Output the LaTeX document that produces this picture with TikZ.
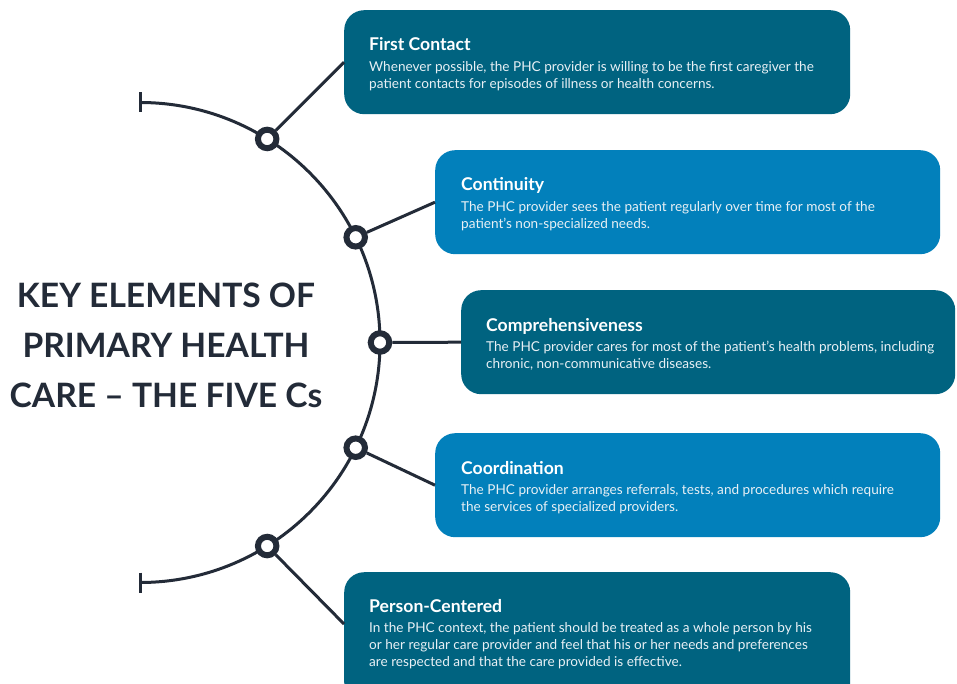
\documentclass[tikz,border=0pt]{standalone}
\usepackage{fontspec}
\setmainfont{Lato}
\usetikzlibrary{calc}
\definecolor{deepteal}{RGB}{0,99,128}
\definecolor{brightblue}{RGB}{2,128,187}
\definecolor{ink}{RGB}{35,43,56}
\definecolor{softwhite}{RGB}{232,240,245}

\begin{document}
\begin{tikzpicture}[x=1pt,y=1pt,
  card/.style={rectangle, rounded corners=20pt, minimum width=506pt, minimum height=104pt,
    anchor=north west, inner sep=0pt, draw=none},
  cardhead/.style={anchor=base west, inner sep=0pt, text=white,
    font=\fontsize{17.6}{20}\selectfont\bfseries},
  cardline/.style={anchor=base west, inner sep=0pt, text=softwhite,
    font=\fontsize{13.6}{17}\selectfont},
  headline/.style={anchor=base, inner sep=0pt, text=ink,
    font=\fontsize{33.6}{50}\selectfont\bfseries},
  joint/.style={circle, draw=ink, fill=white, line width=6pt, minimum size=18.5pt, inner sep=0pt},
  spine/.style={draw=ink, line width=3pt},
  link/.style={draw=ink, line width=3pt},
]
\useasboundingbox (0,0) rectangle (957,-684);
\clip (0,0) rectangle (957,-684);
\fill[white] (0,0) rectangle (957,-684);

% half-circle spine with end ticks
\coordinate (ctr) at (140,-342.5);
\coordinate (top) at (140,-102.5);
\coordinate (bot) at (140,-582.5);
\draw[spine] (top) arc[start angle=90, end angle=-90, radius=240];
\draw[spine] ($(top)+(0,10)$) -- ($(top)+(0,-10)$);
\draw[spine] ($(bot)+(0,10)$) -- ($(bot)+(0,-10)$);

% cards
\node[card, fill=deepteal] (c1) at (344,-10) {};
\node[card, fill=brightblue, minimum width=505pt] (c2) at (435,-150) {};
\node[card, fill=deepteal, minimum width=494pt] (c3) at (461,-290) {};
\node[card, fill=brightblue, minimum width=505pt] (c4) at (435,-433) {};
\node[card, fill=deepteal, minimum height=130pt] (c5) at (344,-572) {};
\coordinate (c5in) at ($(c5.north west)+(0,-52)$);

% joints on the spine
\node[joint] (j1) at ($(ctr)+(58:240)$) {};
\node[joint] (j2) at ($(ctr)+(26:240)$) {};
\node[joint] (j3) at ($(ctr)+(0:240)$) {};
\node[joint] (j4) at ($(ctr)+(-26:240)$) {};
\node[joint] (j5) at ($(ctr)+(-58:240)$) {};

% links from joints to cards
\draw[link] (j1) -- (c1.west);
\draw[link] (j2) -- (c2.west);
\draw[link] (j3) -- (c3.west);
\draw[link] (j4) -- (c4.west);
\draw[link] (j5) -- (c5in);

% headline
\node[headline] (h1) at (166,-307) {KEY ELEMENTS OF};
\node[headline] (h2) at (166,-357) {PRIMARY HEALTH};
\node[headline] (h3) at (166,-407) {CARE – THE FIVE Cs};

% card texts
\node[cardhead] (t1) at ($(c1.north west)+(25,-41)$) {First Contact};
\node[cardline] (t1a) at ($(c1.north west)+(25,-61.5)$) {Whenever possible, the PHC provider is willing to be the first caregiver the};
\node[cardline] (t1b) at ($(c1.north west)+(25,-78.5)$) {patient contacts for episodes of illness or health concerns.};

\node[cardhead] (t2) at ($(c2.north west)+(26,-41)$) {Continuity};
\node[cardline] (t2a) at ($(c2.north west)+(26,-61.5)$) {The PHC provider sees the patient regularly over time for most of the};
\node[cardline] (t2b) at ($(c2.north west)+(26,-78.5)$) {patient’s non-specialized needs.};

\node[cardhead] (t3) at ($(c3.north west)+(25,-41)$) {Comprehensiveness};
\node[cardline] (t3a) at ($(c3.north west)+(25,-61.5)$) {The PHC provider cares for most of the patient’s health problems, including};
\node[cardline] (t3b) at ($(c3.north west)+(25,-78.5)$) {chronic, non-communicative diseases.};

\node[cardhead] (t4) at ($(c4.north west)+(26,-41)$) {Coordination};
\node[cardline] (t4a) at ($(c4.north west)+(26,-61.5)$) {The PHC provider arranges referrals, tests, and procedures which require};
\node[cardline] (t4b) at ($(c4.north west)+(26,-78.5)$) {the services of specialized providers.};

\node[cardhead] (t5) at ($(c5.north west)+(25,-40)$) {Person-Centered};
\node[cardline] (t5a) at ($(c5.north west)+(25,-60.5)$) {In the PHC context, the patient should be treated as a whole person by his};
\node[cardline] (t5b) at ($(c5.north west)+(25,-77.5)$) {or her regular care provider and feel that his or her needs and preferences};
\node[cardline] (t5c) at ($(c5.north west)+(25,-94.5)$) {are respected and that the care provided is effective.};
\end{tikzpicture}
\end{document}
